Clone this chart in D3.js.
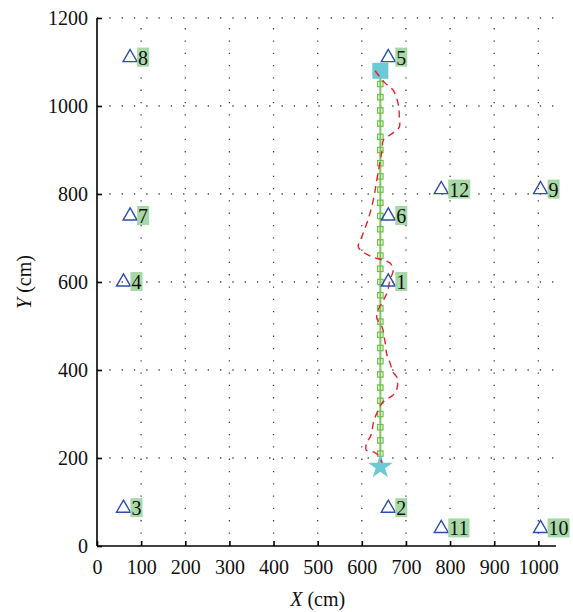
<!DOCTYPE html>
<html><head><meta charset="utf-8">
<script src="https://cdn.jsdelivr.net/npm/d3@7"></script>
<style>body{margin:0;background:#fff}</style>
</head><body>
<svg id="c" width="573" height="612"></svg>
<script>
// Anchor nodes
const anchorIds = ["1","2","3","4","5","6","7","8","9","10","11","12"];
const anchorX = [660, 660, 60, 60, 660, 660, 75, 75, 1005, 1005, 780, 780];
const anchorY = [600, 86, 86, 600, 1110, 750, 750, 1110, 810, 40, 40, 810];
// Ground-truth path (green)
const truthX = [642, 642];
const truthY = [180, 1080];
const truthMarkY = [210,240,270,300,330,360,390,420,450,480,510,540,570,600,630,660,690,720,750,780,810,840,870,900,930,960,990,1020,1050];
const truthMarkX = 642;
// Start (star) and end (square)
const startPt = [642, 180];
const endPt = [642, 1080];
// Estimated track (red dashed)
const estX = [630,653,671,683,685,685,671,649,646,642,634,626,614,600,592,603,624,646,664,671,664,657,649,637,634,646,653,657,664,671,680,680,671,657,646,634,626,623,619,611,610,626,637,646];
const estY = [1080,1052,1036,1002,973,952,939,923,900,877,832,786,741,703,680,668,657,650,643,627,605,575,559,536,518,498,461,434,416,395,382,359,343,334,325,302,280,259,248,234,218,214,207,189];
// Ticks
const xTicks = [0,100,200,300,400,500,600,700,800,900,1000];
const yTicks = [0,200,400,600,800,1000,1200];

const svg = d3.select("#c");
const L = 97, T = 18, W = 459, H = 528;
const x = d3.scaleLinear().domain([0,1040]).range([L, L+W]);
const y = d3.scaleLinear().domain([0,1200]).range([T+H, T]);
const font = '"Liberation Serif", serif';

// grid
const g = svg.append("g");
g.selectAll(".vg").data(xTicks.filter(d=>d>0)).enter().append("line")
  .attr("x1",d=>x(d)).attr("x2",d=>x(d)).attr("y1",y(0)).attr("y2",y(1200))
  .attr("stroke","#444").attr("stroke-width",1.3).attr("stroke-dasharray","1.3,11");
g.selectAll(".hg").data(yTicks.filter(d=>d>0)).enter().append("line")
  .attr("x1",x(0)).attr("x2",x(1040)).attr("y1",d=>y(d)).attr("y2",d=>y(d))
  .attr("stroke","#444").attr("stroke-width",1.3).attr("stroke-dasharray","1.3,11");

// axes
const xa = svg.append("g").attr("transform",`translate(0,${y(0)})`)
  .call(d3.axisBottom(x).tickValues(xTicks).tickSize(-5).tickPadding(14).tickFormat(d3.format("d")));
const ya = svg.append("g").attr("transform",`translate(${x(0)},0)`)
  .call(d3.axisLeft(y).tickValues(yTicks).tickSize(-5).tickPadding(9).tickFormat(d3.format("d")));
[xa,ya].forEach(a=>{
  a.attr("font-family",null).attr("font-size",null);
  a.select(".domain").attr("stroke","#000").attr("stroke-width",1.6);
  a.selectAll(".tick line").attr("stroke","#000").attr("stroke-width",1.6);
  a.selectAll(".tick text").style("font-family",font).style("font-size","20px").attr("fill","#111");
});
xa.select(".domain").attr("d",`M${x(0)},0H${x(1040)}`);
ya.select(".domain").attr("d",`M0,${y(1200)}V${y(0)}`);

// axis titles
const xt = svg.append("text").attr("x",x(500)).attr("y",606).attr("text-anchor","middle")
  .style("font-family",font).style("font-size","20px").attr("fill","#111");
xt.append("tspan").style("font-style","italic").text("X");
xt.append("tspan").text(" (cm)");
const yt = svg.append("text").attr("transform",`translate(31,${y(600)}) rotate(-90)`).attr("text-anchor","middle")
  .style("font-family",font).style("font-size","20px").attr("fill","#111");
yt.append("tspan").style("font-style","italic").text("Y");
yt.append("tspan").text(" (cm)");

// green truth line
const line = d3.line().x(d=>x(d[0])).y(d=>y(d[1]));
svg.append("path").datum(truthX.map((v,i)=>[v,truthY[i]]))
  .attr("d",line).attr("fill","none").attr("stroke","#7cc65a").attr("stroke-width",2);
svg.selectAll(".tm").data(truthMarkY).enter().append("rect")
  .attr("x",x(truthMarkX)-2.7).attr("y",d=>y(d)-2.7).attr("width",5.4).attr("height",5.4)
  .attr("fill","none").attr("stroke","#6cbf45").attr("stroke-width",1.2);

// end square
svg.append("path").attr("d",d3.symbol().type(d3.symbolSquare).size(256)())
  .attr("transform",`translate(${x(endPt[0])},${y(endPt[1])})`).attr("fill","#6ccad6");
// start star
svg.append("path").attr("d",d3.symbol().type(d3.symbolStar).size(190)())
  .attr("transform",`translate(${x(startPt[0])},${y(startPt[1])})`).attr("fill","#6ccad6");

// red estimated
svg.append("path").datum(estX.map((v,i)=>[v,estY[i]]))
  .attr("d",d3.line().curve(d3.curveCatmullRom).x(d=>x(d[0])).y(d=>y(d[1])))
  .attr("fill","none").attr("stroke","#e8222a").attr("stroke-width",1.4).attr("stroke-dasharray","7,5");

// anchors
const ag = svg.selectAll(".an").data(anchorIds).enter().append("g")
  .attr("transform",(d,i)=>`translate(${x(anchorX[i])},${y(anchorY[i])})`);
ag.append("path").attr("d",d3.symbol().type(d3.symbolTriangle).size(85)())
  .attr("fill","none").attr("stroke","#2e4ead").attr("stroke-width",1.4);
const rects = ag.append("rect").attr("fill","#a8d8a8");
const txt = ag.append("text").attr("x",8).attr("y",7).style("font-family",font).style("font-size","20px")
  .attr("fill","#111").text(d=>d);
txt.each(function(d,i){
  const w = this.getComputedTextLength();
  d3.select(rects.nodes()[i]).attr("x",7).attr("y",-10).attr("width",w+2).attr("height",19);
});
</script>
</body></html>
